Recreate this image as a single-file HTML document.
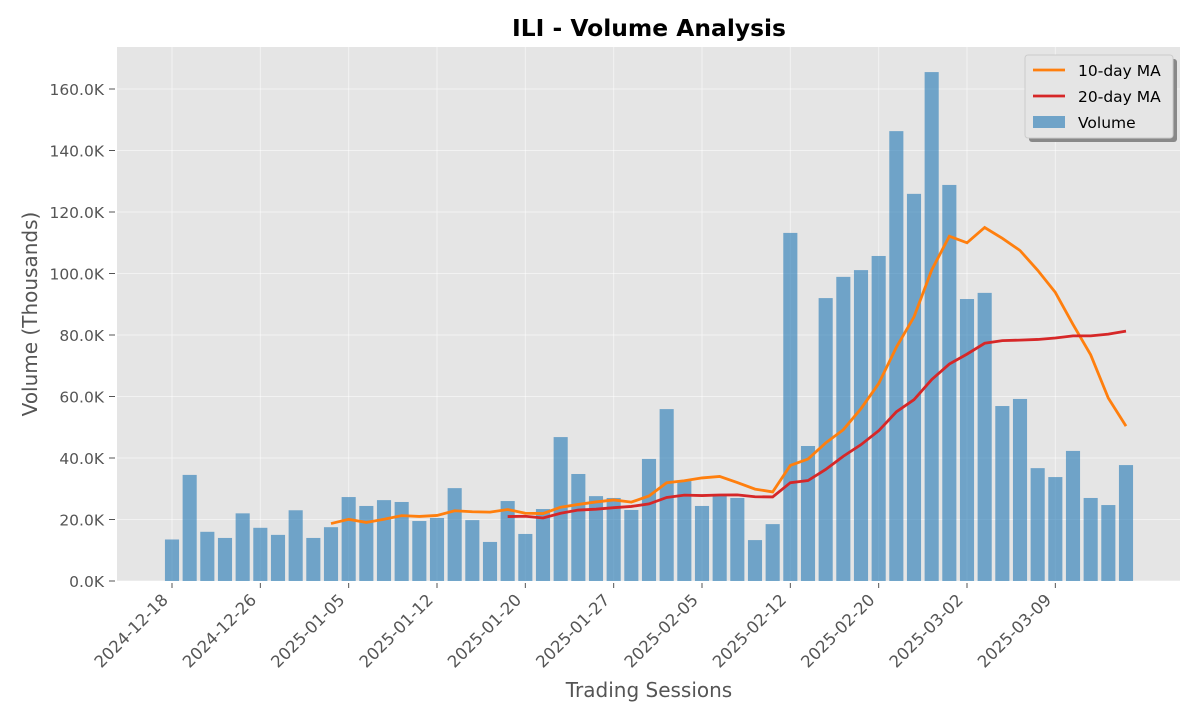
<!DOCTYPE html>
<html><head><meta charset="utf-8"><style>
body{margin:0;background:#fff;font-family:"DejaVu Sans",sans-serif}
</style></head><body>
<svg id="chart" width="1200" height="720" xmlns="http://www.w3.org/2000/svg" font-family="DejaVu Sans, Liberation Sans, sans-serif"></svg>
<script>
const volumes=[13.5,34.5,16,14,22,17.3,15,23,14,17.5,27.3,24.4,26.3,25.7,19.5,20.5,30.2,19.8,12.7,26,15.3,23.4,46.8,34.8,27.6,27,23.1,39.7,55.9,32.5,24.4,28.3,27,13.3,18.5,113.2,43.9,92,98.9,101.1,105.7,146.3,125.9,165.5,128.8,91.7,93.7,56.9,59.2,36.7,33.8,42.3,27,24.7,37.7];
const tickLabels=["2024-12-18","2024-12-26","2025-01-05","2025-01-12","2025-01-20","2025-01-27","2025-02-05","2025-02-12","2025-02-20","2025-03-02","2025-03-09"];
const yTicks=[0,20,40,60,80,100,120,140,160];
const svg=document.getElementById('chart');const NS="http://www.w3.org/2000/svg";
function mk(t,a,p){const e=document.createElementNS(NS,t);for(const k in a)e.setAttribute(k,a[k]);(p||svg).appendChild(e);return e;}
const L=117,R=1180,T=47,B=581;
const x=i=>172+i*(1126-172)/(volumes.length-1);
const y=v=>B-v*(B-89)/160;
const bg=mk('rect',{x:L,y:T,width:R-L,height:B-T,fill:'#e5e5e5'});

yTicks.forEach(v=>{mk('line',{x1:L,x2:R,y1:y(v),y2:y(v),stroke:'#fff','stroke-opacity':0.5});
mk('line',{x1:L-8,x2:L-2,y1:y(v),y2:y(v),stroke:'#555'});
const t=mk('text',{x:L-13,y:y(v)+6,'text-anchor':'end','font-size':15.5,fill:'#555'});t.textContent=v.toFixed(1)+'K';
});
tickLabels.forEach((lab,k)=>{const xx=x(k*5);mk('line',{x1:xx,x2:xx,y1:T,y2:B,stroke:'#fff','stroke-opacity':0.5});
mk('line',{x1:xx,x2:xx,y1:B+2,y2:B+7,stroke:'#555'});
const ax=xx-3,ay=B+20;
const t=mk('text',{x:ax,y:ay,'text-anchor':'end','font-size':16.5,fill:'#555',transform:`rotate(-45 ${ax} ${ay})`});t.textContent=lab;
});
const bw=14.1;
volumes.forEach((v,i)=>{const r=mk('rect',{x:x(i)-bw/2,y:y(v),width:bw,height:B-y(v),fill:'#1f77b4','fill-opacity':0.6});
});
function ma(n){const pts=[];for(let i=n-1;i<volumes.length;i++){let s=0;for(let j=i-n+1;j<=i;j++)s+=volumes[j];pts.push(x(i)+','+y(s/n));}return pts.join(' ');}
const l1=mk('polyline',{points:ma(10),fill:'none',stroke:'#ff7f0e','stroke-width':2.8});

const l2=mk('polyline',{points:ma(20),fill:'none',stroke:'#d62728','stroke-width':2.8});

const title=mk('text',{x:649,y:36,'text-anchor':'middle','font-size':23.4,'font-weight':'bold',fill:'#000'});title.textContent='ILI - Volume Analysis';

const xl=mk('text',{x:649,y:697,'text-anchor':'middle','font-size':20,fill:'#555'});xl.textContent='Trading Sessions';

const yl=mk('text',{x:37,y:314,'text-anchor':'middle','font-size':20,fill:'#555',transform:'rotate(-90 37 314)'});yl.textContent='Volume (Thousands)';

const lg=mk('g',{});
mk('rect',{x:1029,y:59,width:148,height:83,rx:3,fill:'#888'},lg);
mk('rect',{x:1025,y:55,width:148,height:83,rx:3,fill:'#e5e5e5',stroke:'#ccc'},lg);
[['10-day MA','#ff7f0e'],['20-day MA','#d62728']].forEach((d,k)=>{const yy=70+k*26;
mk('line',{x1:1033,x2:1065,y1:yy,y2:yy,stroke:d[1],'stroke-width':2.8},lg);
const t=mk('text',{x:1078,y:yy+6,'font-size':15.5,fill:'#000'},lg);t.textContent=d[0];
});
mk('rect',{x:1033,y:116,width:32,height:12,fill:'#1f77b4','fill-opacity':0.6},lg);
const t3=mk('text',{x:1078,y:128,'font-size':15.5,fill:'#000'},lg);t3.textContent='Volume';

</script>
</body></html>
